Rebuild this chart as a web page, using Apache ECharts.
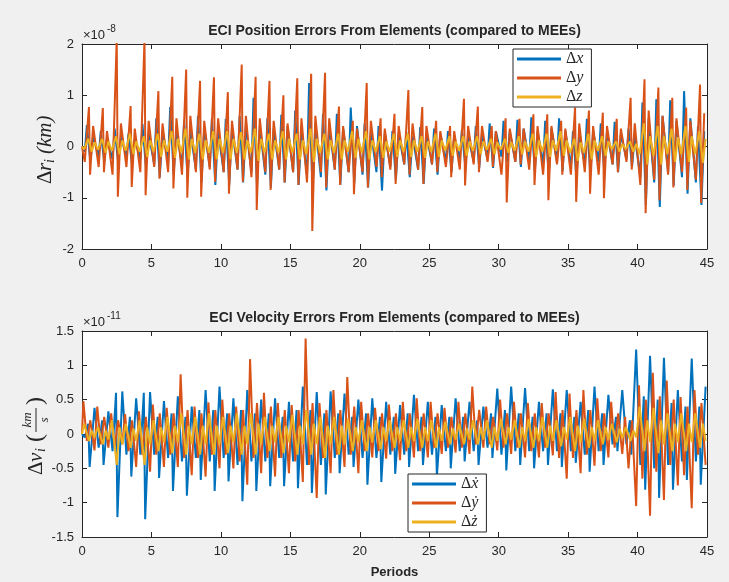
<!DOCTYPE html>
<html>
<head>
<meta charset="utf-8">
<script src="https://cdn.jsdelivr.net/npm/echarts@6/dist/echarts.min.js"></script>
<style>
  html, body { margin: 0; padding: 0; background: #f0f0f0; }
  #chart { width: 729px; height: 582px; }
</style>
</head>
<body>
<div id="chart"></div>
<script>
// x axis: orbital periods 0..45, one entry per period below
// top panel in units of 1e-8 km, bottom panel in units of 1e-11 km/s
// per period: main peak (Hi), main dip (Lo), secondary peak (S1), secondary dip (S2)

const dxHi = [0.42,0.30,0.35,0.25,0.44,0.55,0.77,0.50,0.60,0.54, 0.54,0.60,0.95,0.55,0.62,0.70,1.24,0.64,0.64,0.76, 0.45,0.40,0.30,0.28,0.38,0.35,0.30,0.32,0.40,0.45, 0.50,0.52,0.57,0.50,0.55,0.30,0.54,0.45,0.48,0.35, 0.86,0.92,0.90,1.08,0.40]
const dxLo = [-0.30,-0.30,-0.30,-0.35,-0.40,-0.60,-0.55,-0.60,-0.70,-0.75, -0.75,-0.70,-0.75,-0.80,-0.70,-0.75,-0.86,-0.86,-0.75,-0.72, -0.80,-0.86,-0.65,-0.60,-0.73,-0.55,-0.50,-0.40,-0.42,-0.42, -0.30,-0.40,-0.48,-0.55,-0.48,-0.63,-0.55,-0.48,-0.50,-0.40, -1.14,-1.18,-0.76,-0.92,-1.14]
const dxS1 = [0.20,0.15,0.20,0.15,0.25,0.30,0.35,0.30,0.35,0.30, 0.35,0.40,0.40,0.35,0.40,0.35,0.45,0.40,0.35,0.40, 0.30,0.25,0.25,0.20,0.25,0.25,0.20,0.20,0.25,0.30, 0.30,0.35,0.30,0.35,0.30,0.25,0.30,0.30,0.25,0.20, 0.55,0.60,0.50,0.55,0.30]
const dxS2 = [-0.10,-0.20,-0.25,-0.20,-0.25,-0.35,-0.30,-0.40,-0.45,-0.40, -0.50,-0.45,-0.50,-0.55,-0.45,-0.50,-0.55,-0.60,-0.45,-0.50, -0.55,-0.50,-0.40,-0.35,-0.45,-0.35,-0.30,-0.25,-0.30,-0.25, -0.20,-0.30,-0.30,-0.35,-0.30,-0.40,-0.35,-0.30,-0.35,-0.25, -0.60,-0.70,-0.50,-0.60,-0.70]

const dyHi = [0.77,0.75,2.10,0.79,2.10,1.08,1.36,1.50,1.28,1.35, 1.06,1.60,1.36,1.28,1.00,1.33,1.42,1.44,0.78,0.50, 1.24,0.55,0.64,1.10,0.77,0.50,0.40,0.93,0.78,0.40, 0.55,0.54,0.63,0.63,0.50,0.76,0.70,0.66,0.54,0.95, 1.31,1.15,0.95,0.76,1.21]
const dyLo = [-0.55,-0.50,-0.98,-0.79,-0.95,-0.63,-0.82,-1.00,-0.98,-0.69, -0.92,-0.69,-1.24,-0.85,-0.70,-0.75,-1.65,-0.80,-0.75,-0.93, -0.80,-0.60,-0.73,-0.55,-0.73,-0.50,-0.60,-0.76,-0.50,-0.40, -1.09,-0.35,-0.75,-1.05,-0.55,-1.08,-0.92,-1.01,-0.50,-0.45, -1.30,-1.05,-0.80,-0.85,-1.10]
const dyS1 = [0.40,0.30,0.45,0.35,0.50,0.45,0.55,0.60,0.50,0.55, 0.50,0.60,0.55,0.50,0.45,0.55,0.60,0.55,0.40,0.35, 0.50,0.35,0.40,0.45,0.40,0.30,0.30,0.40,0.40,0.30, 0.35,0.35,0.40,0.40,0.35,0.45,0.40,0.40,0.35,0.45, 0.70,0.60,0.55,0.50,0.65]
const dyS2 = [-0.30,-0.40,-0.55,-0.40,-0.50,-0.40,-0.50,-0.55,-0.50,-0.45, -0.50,-0.45,-0.60,-0.50,-0.45,-0.50,-0.70,-0.50,-0.45,-0.50, -0.50,-0.40,-0.45,-0.35,-0.45,-0.35,-0.40,-0.45,-0.35,-0.30, -0.55,-0.30,-0.45,-0.55,-0.35,-0.55,-0.50,-0.55,-0.35,-0.30, -0.75,-0.65,-0.55,-0.50,-0.65]

const dzHi = [0.15,0.15,0.20,0.25,0.20,0.25,0.30,0.35,0.25,0.30, 0.30,0.28,0.35,0.25,0.30,0.25,0.35,0.25,0.25,0.30, 0.30,0.20,0.25,0.25,0.20,0.25,0.20,0.20,0.20,0.15, 0.15,0.20,0.25,0.25,0.30,0.15,0.25,0.20,0.10,0.10, 0.45,0.40,0.35,0.40,0.30]
const dzLo = [-0.10,-0.12,-0.15,-0.15,-0.20,-0.20,-0.22,-0.25,-0.25,-0.25, -0.25,-0.25,-0.28,-0.25,-0.25,-0.25,-0.30,-0.25,-0.25,-0.22, -0.25,-0.22,-0.20,-0.20,-0.22,-0.20,-0.18,-0.18,-0.15,-0.15, -0.12,-0.15,-0.20,-0.20,-0.18,-0.28,-0.25,-0.18,-0.10,-0.10, -0.35,-0.35,-0.30,-0.30,-0.32]
const dzS1 = [0.08,0.10,0.12,0.10,0.12,0.12,0.15,0.15,0.12,0.15, 0.15,0.12,0.15,0.12,0.15,0.12,0.15,0.12,0.12,0.15, 0.12,0.10,0.12,0.12,0.10,0.12,0.10,0.10,0.10,0.08, 0.08,0.10,0.12,0.12,0.12,0.08,0.12,0.10,0.05,0.05, 0.20,0.20,0.18,0.20,0.15]
const dzS2 = [-0.05,-0.06,-0.08,-0.08,-0.10,-0.10,-0.10,-0.12,-0.12,-0.12, -0.12,-0.12,-0.12,-0.12,-0.12,-0.12,-0.15,-0.12,-0.12,-0.10, -0.12,-0.10,-0.10,-0.10,-0.10,-0.10,-0.08,-0.08,-0.08,-0.06, -0.06,-0.08,-0.10,-0.10,-0.08,-0.12,-0.12,-0.08,-0.05,-0.05, -0.15,-0.18,-0.15,-0.15,-0.15]

const dvxHi = [0.38,0.33,0.62,0.52,0.61,0.48,0.55,0.40,0.64,0.69, 0.52,0.64,0.50,0.52,0.47,0.69,0.61,0.62,0.59,0.50, 0.52,0.47,0.42,0.57,0.47,0.42,0.52,0.47,0.40,0.66, 0.69,0.67,0.47,0.65,0.64,0.47,0.69,0.57,0.64,1.23, 1.14,1.11,0.64,1.10,0.69]
const dvxLo = [-0.48,-0.45,-1.21,-0.62,-1.24,-0.64,-0.83,-0.90,-0.67,-0.83, -0.69,-0.98,-0.83,-0.76,-0.76,-0.79,-0.86,-0.88,-0.57,-0.48, -0.74,-0.70,-0.58,-0.48,-0.45,-0.62,-0.50,-0.40,-0.45,-0.35, -0.53,-0.45,-0.50,-0.45,-0.48,-0.42,-0.55,-0.45,-0.25,-0.30, -0.81,-0.93,-0.81,-0.67,-0.74]
const dvxS1 = [0.15,0.20,0.60,0.25,0.60,0.25,0.30,0.25,0.35,0.35, 0.30,0.35,0.30,0.30,0.25,0.35,0.35,0.30,0.30,0.25, 0.30,0.25,0.25,0.30,0.25,0.25,0.25,0.25,0.20,0.30, 0.35,0.30,0.25,0.30,0.30,0.25,0.35,0.30,0.25,0.20, 0.55,0.50,0.45,0.40,0.40]
const dvxS2 = [-0.05,-0.20,-0.25,-0.30,-0.30,-0.30,-0.35,-0.40,-0.35,-0.40, -0.35,-0.45,-0.40,-0.40,-0.35,-0.40,-0.45,-0.45,-0.35,-0.30, -0.35,-0.35,-0.30,-0.30,-0.25,-0.30,-0.25,-0.25,-0.25,-0.20, -0.30,-0.25,-0.25,-0.25,-0.25,-0.25,-0.30,-0.25,-0.15,-0.15, -0.45,-0.50,-0.45,-0.40,-0.40]

const dvyHi = [0.48,0.40,0.30,0.29,0.33,0.43,0.38,0.87,0.40,0.46, 0.50,0.40,1.09,0.60,0.45,0.42,1.39,0.45,0.64,0.83, 0.47,0.38,0.43,0.47,0.52,0.47,0.38,0.47,0.69,0.40, 0.50,0.47,0.45,0.45,0.61,0.59,0.64,0.52,0.47,0.25, 0.71,0.89,0.78,0.54,0.64]
const dvyLo = [-0.24,-0.20,-0.15,-0.48,-0.55,-0.48,-0.48,-0.60,-0.62,-0.50, -0.50,-0.74,-0.57,-0.62,-0.57,-0.70,-0.93,-0.57,-0.48,-0.57, -0.34,-0.36,-0.38,-0.34,-0.34,-0.29,-0.27,-0.29,-0.20,-0.24, -0.29,-0.34,-0.34,-0.31,-0.65,-0.57,-0.46,-0.34,-0.29,-1.05, -1.19,-0.96,-0.75,-1.08,-0.45]
const dvyS1 = [0.20,0.25,0.20,0.20,0.25,0.30,0.30,0.35,0.30,0.35, 0.30,0.35,0.45,0.40,0.35,0.35,0.45,0.35,0.35,0.40, 0.30,0.30,0.30,0.30,0.30,0.30,0.25,0.30,0.35,0.25, 0.30,0.30,0.30,0.30,0.35,0.35,0.35,0.30,0.30,0.20, 0.50,0.55,0.50,0.40,0.45]
const dvyS2 = [-0.10,-0.15,-0.20,-0.25,-0.30,-0.30,-0.30,-0.35,-0.35,-0.30, -0.30,-0.40,-0.35,-0.35,-0.35,-0.40,-0.45,-0.35,-0.30,-0.30, -0.25,-0.25,-0.25,-0.25,-0.25,-0.20,-0.20,-0.20,-0.15,-0.15, -0.20,-0.20,-0.25,-0.20,-0.35,-0.35,-0.30,-0.25,-0.20,-0.50, -0.65,-0.55,-0.45,-0.60,-0.30]

const dvzHi = [0.15,0.10,0.20,0.15,0.20,0.20,0.25,0.30,0.25,0.30, 0.25,0.30,0.30,0.25,0.25,0.28,0.35,0.25,0.25,0.22, 0.20,0.20,0.20,0.20,0.22,0.20,0.18,0.15,0.20,0.20, 0.22,0.20,0.22,0.25,0.20,0.25,0.22,0.20,0.15,0.10, 0.40,0.38,0.30,0.30,0.30]
const dvzLo = [-0.10,-0.15,-0.45,-0.20,-0.45,-0.25,-0.28,-0.30,-0.30,-0.30, -0.28,-0.30,-0.30,-0.25,-0.28,-0.30,-0.30,-0.35,-0.30,-0.25, -0.25,-0.22,-0.20,-0.20,-0.20,-0.20,-0.15,-0.15,-0.15,-0.20, -0.15,-0.20,-0.20,-0.20,-0.18,-0.25,-0.20,-0.15,-0.12,-0.10, -0.25,-0.28,-0.25,-0.25,-0.20]
const dvzS1 = [0.05,0.05,0.10,0.08,0.10,0.10,0.12,0.12,0.12,0.12, 0.12,0.12,0.15,0.12,0.12,0.12,0.15,0.12,0.12,0.10, 0.10,0.10,0.10,0.10,0.10,0.10,0.08,0.08,0.10,0.10, 0.10,0.10,0.10,0.12,0.10,0.12,0.10,0.10,0.08,0.05, 0.20,0.20,0.15,0.15,0.15]
const dvzS2 = [-0.05,-0.08,-0.15,-0.10,-0.15,-0.12,-0.12,-0.15,-0.15,-0.15, -0.12,-0.15,-0.15,-0.12,-0.12,-0.15,-0.15,-0.15,-0.15,-0.12, -0.12,-0.10,-0.10,-0.10,-0.10,-0.10,-0.08,-0.08,-0.08,-0.10, -0.08,-0.10,-0.10,-0.10,-0.08,-0.12,-0.10,-0.08,-0.06,-0.05, -0.12,-0.15,-0.12,-0.12,-0.10]

const posNames = ['Δx', 'Δy', 'Δz']
const velNames = ['Δẋ', 'Δẏ', 'Δż']
const colors = ['#0072BD', '#D95319', '#EDB120']

// places each period's values at fixed fractions of that period
function build(parts) {
  const pts = [[0, 0]]
  for (let k = 0; k < 45; k++) parts.forEach(([arr, ph]) => pts.push([k + ph, arr[k]]))
  return pts.sort((a, b) => a[0] - b[0])
}

const posData = [
  build([[dxS2, 0.2], [dxHi, 0.35], [dxLo, 0.6], [dxS1, 0.8]]),
  build([[dyS2, 0.2], [dyHi, 0.5], [dyLo, 0.58], [dyS1, 0.8]]),
  build([[dzS2, 0.15], [dzHi, 0.45], [dzLo, 0.7], [dzS1, 0.9]]),
]
const velData = [
  build([[dvxS2, 0.2], [dvxS1, 0.45], [dvxLo, 0.55], [dvxHi, 0.9]]),
  build([[dvyHi, 0.1], [dvyS2, 0.35], [dvyS1, 0.6], [dvyLo, 0.9]]),
  build([[dvzHi, 0.15], [dvzLo, 0.5], [dvzS1, 0.7], [dvzS2, 0.9]]),
]

const ink = '#262626'
const sans = '"Liberation Sans", Arial, sans-serif'
const serif = '"Liberation Serif", "DejaVu Serif", serif'

function xAx(grid, pos) {
  return {
    type: 'value', gridIndex: grid, position: pos, min: 0, max: 45, interval: 5,
    axisLine: { show: true, onZero: false, lineStyle: { color: ink, width: 1 } },
    axisTick: { show: true, inside: true, length: 5, lineStyle: { color: ink } },
    axisLabel: { show: pos === 'bottom', color: ink, fontSize: 13, fontFamily: sans, margin: 8 },
    splitLine: { show: false },
  }
}
function yAx(grid, pos, min, max, step) {
  return {
    type: 'value', gridIndex: grid, position: pos, min, max, interval: step,
    axisLine: { show: true, onZero: false, lineStyle: { color: ink, width: 1 } },
    axisTick: { show: true, inside: true, length: 5, lineStyle: { color: ink } },
    axisLabel: { show: pos === 'left', color: ink, fontSize: 13, fontFamily: sans, margin: 8 },
    splitLine: { show: false },
  }
}

function legend(names, left, top) {
  return {
    data: names, orient: 'vertical', left, top,
    icon: 'rect', itemWidth: 44, itemHeight: 3, itemGap: 3,
    backgroundColor: '#fff', borderColor: ink, borderWidth: 1, borderRadius: 0,
    padding: [2, 8, 2, 4],
    formatter: n => `{d|Δ}{v|${n.slice(1)}}`,
    textStyle: {
      color: ink,
      rich: {
        d: { fontFamily: serif, fontSize: 16, color: ink },
        v: { fontFamily: serif, fontSize: 16, fontStyle: 'italic', color: ink },
      },
    },
  }
}

function txt(x, y, text, font, align) {
  return { type: 'text', x, y, style: { text, font, fill: ink, align: align || 'left', verticalAlign: 'middle' } }
}

const chart = echarts.init(document.getElementById('chart'))
chart.setOption({
  animation: false,
  backgroundColor: '#f0f0f0',
  grid: [
    { left: 82, right: 22, top: 44, height: 205, show: true, backgroundColor: '#fff', borderWidth: 0 },
    { left: 82, right: 22, top: 331, height: 206, show: true, backgroundColor: '#fff', borderWidth: 0 },
  ],
  xAxis: [xAx(0, 'bottom'), xAx(0, 'top'), xAx(1, 'bottom'), xAx(1, 'top')],
  yAxis: [
    yAx(0, 'left', -2, 2, 1), yAx(0, 'right', -2, 2, 1),
    yAx(1, 'left', -1.5, 1.5, 0.5), yAx(1, 'right', -1.5, 1.5, 0.5),
  ],
  legend: [legend(posNames, 513, 49), legend(velNames, 408, 474)],
  series: [
    ...posNames.map((n, i) => ({
      name: n, type: 'line', xAxisIndex: 0, yAxisIndex: 0, data: posData[i],
      showSymbol: false, color: colors[i], lineStyle: { width: 2 }, z: 2 + i,
    })),
    ...velNames.map((n, i) => ({
      name: n, type: 'line', xAxisIndex: 2, yAxisIndex: 2, data: velData[i],
      showSymbol: false, color: colors[i], lineStyle: { width: 2 }, z: 2 + i,
    })),
  ],
  graphic: [
    txt(394.5, 31, 'ECI Position Errors From Elements (compared to MEEs)', `bold 14px ${sans}`, 'center'),
    txt(394.5, 318, 'ECI Velocity Errors From Elements (compared to MEEs)', `bold 14px ${sans}`, 'center'),
    txt(394.5, 572, 'Periods', `bold 13px ${sans}`, 'center'),
    txt(83, 35, '×10', `13px ${sans}`),
    txt(107, 29, '-8', `10px ${sans}`),
    txt(83, 322, '×10', `13px ${sans}`),
    txt(107, 316, '-11', `10px ${sans}`),
    {
      type: 'group', x: 45, y: 146, rotation: Math.PI / 2,
      children: [
        txt(-38, 0, 'Δ', `21px ${serif}`),
        txt(-25, 0, 'r', `italic 21px ${serif}`),
        txt(-17, 5, 'i', `italic 14px ${serif}`),
        txt(-8, 0, '(km)', `italic 21px ${serif}`),
      ],
    },
    {
      type: 'group', x: 36, y: 434, rotation: Math.PI / 2,
      children: [
        txt(-41, 0, 'Δ', `21px ${serif}`),
        txt(-28, 0, 'v', `italic 21px ${serif}`),
        txt(-18, 5, 'i', `italic 14px ${serif}`),
        txt(-8, 0, '(', `24px ${serif}`),
        txt(14, -8, 'km', `italic 13px ${serif}`, 'center'),
        { type: 'line', shape: { x1: 2, y1: 0, x2: 26, y2: 0 }, style: { stroke: ink, lineWidth: 1 } },
        txt(14, 9, 's', `italic 13px ${serif}`, 'center'),
        txt(29, 0, ')', `24px ${serif}`),
      ],
    },
  ],
})
</script>
</body>
</html>
